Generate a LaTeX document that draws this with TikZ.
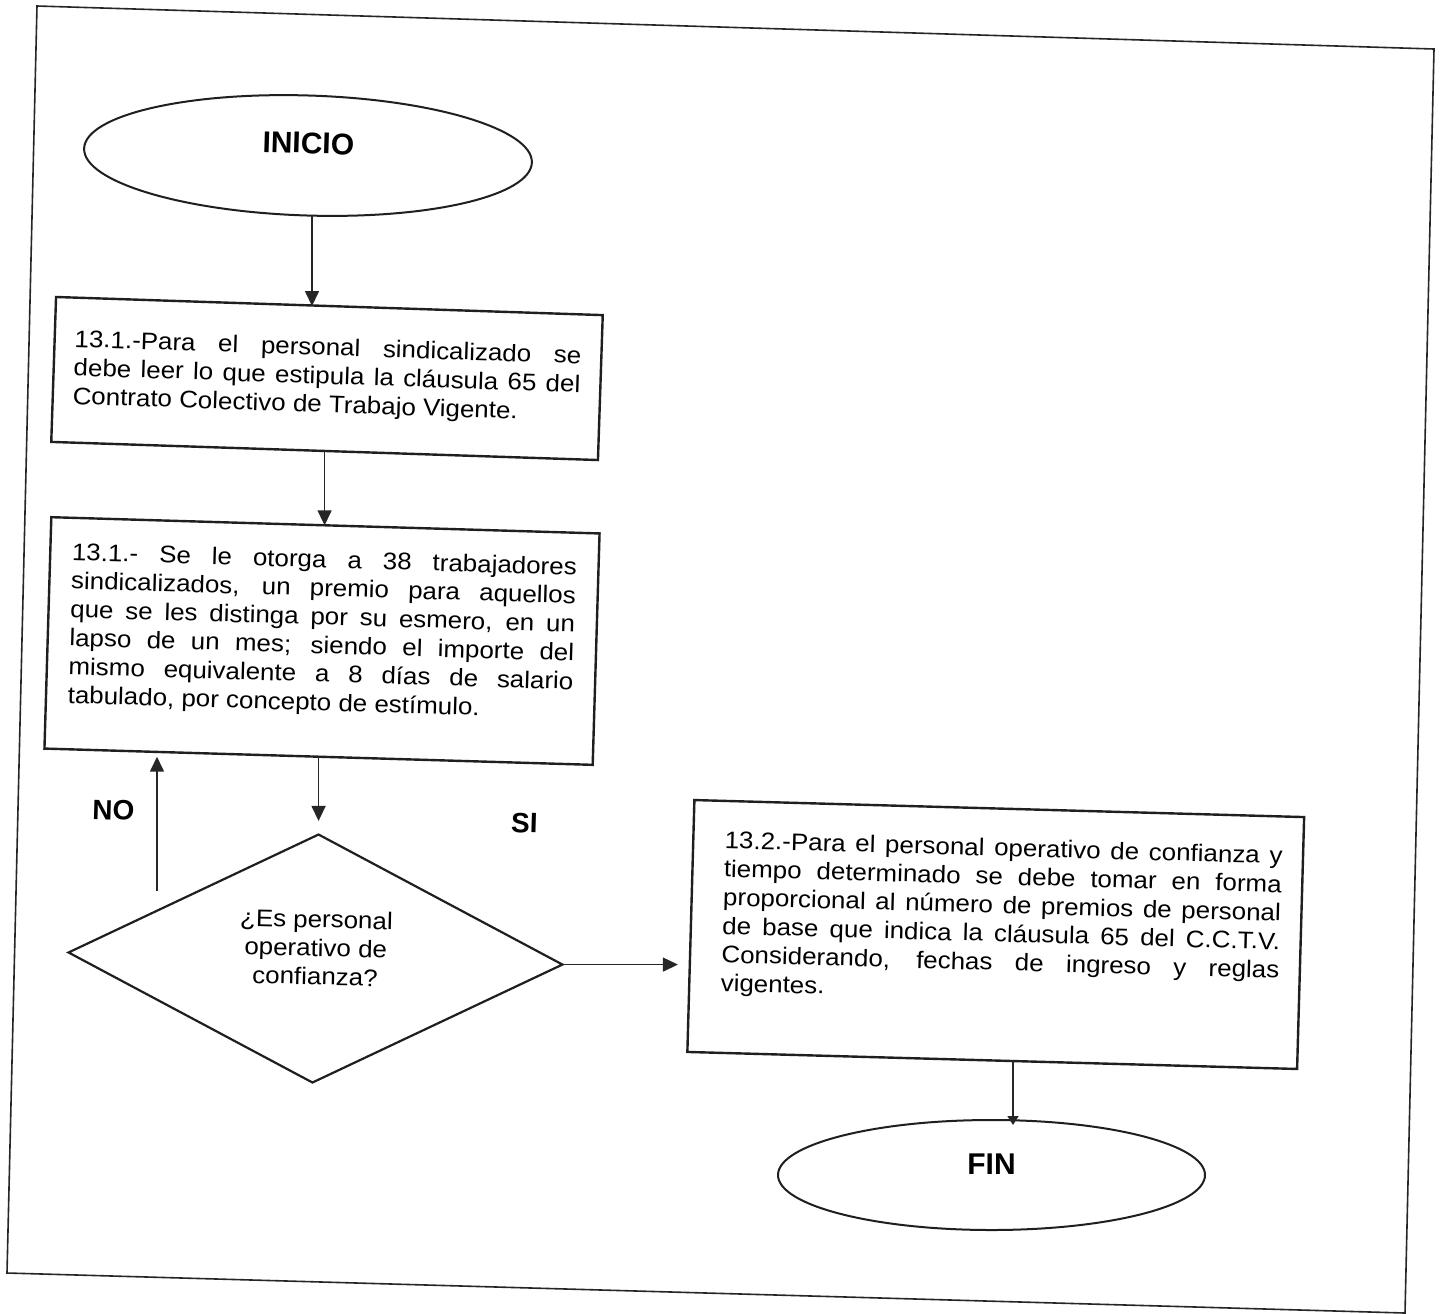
\documentclass[tikz,border=0pt]{standalone}
\usepackage{fontspec}
\setmainfont{Liberation Sans}
\newfontfamily\bodyfam[FakeStretch=1.08]{Liberation Sans}
\usetikzlibrary{shapes.geometric,arrows.meta,calc}

% type sizes
\newcommand\fcbody{\bodyfam\fontsize{12pt}{14.3pt}\selectfont}
\newcommand\fcterm{\fontsize{15pt}{18pt}\selectfont\bfseries}
\newcommand\fclabel{\fontsize{14pt}{17pt}\selectfont\bfseries}

% top-aligned text block: height, width, top gap, lines
\newcommand\boxtext[4]{\parbox[c][#1][t]{#2}{\vspace*{#3}#4}}
% one fully justified line
\newcommand\jline[1]{\makebox[\linewidth][s]{#1}\par}

\tikzset{
  procbox/.style={draw=black!88, line width=1.2pt, inner sep=0pt, outer sep=0pt, font=\fcbody},
  terminal/.style={ellipse, draw=black!88, line width=1pt, inner sep=0pt, font=\fcterm},
  decision/.style={diamond, aspect=2, draw=black!88, line width=1.1pt, inner sep=0pt, font=\fcbody},
  flow/.style={draw=black!85, line width=0.75pt, -{Triangle[length=7.5pt,width=7pt]}},
  flowsmall/.style={draw=black!85, line width=0.75pt, -{Triangle[length=4.5pt,width=5.5pt]}},
  lbl/.style={font=\fclabel, inner sep=0pt},
  frameline/.style={draw=black!85, line width=0.8pt},
}

\begin{document}
\begin{tikzpicture}[x=0.5pt, y=-0.5pt]
  \fill[white] (0,0) rectangle (1440,1313);
  \useasboundingbox (0,0) rectangle (1440,1313);

  % page frame
  \draw[frameline] (37,6) -- (1434,49) -- (1405,1313) -- (7,1273) -- cycle;

  % start
  \node[terminal, rotate=-1.8, minimum width=224pt, minimum height=60pt, text depth=12.5pt]
    (ini) at (308,155.5) {INICIO};

  % step 13.1 (reading)
  \node[procbox, rotate=-1.9, minimum width=273.5pt, minimum height=72.5pt]
    (b1) at (327,378.5)
    {\boxtext{72.5pt}{253.5pt}{16pt}{%
      \jline{13.1.-Para el personal sindicalizado se}%
      \jline{debe leer lo que estipula la cláusula 65 del}%
      Contrato Colectivo de Trabajo Vigente.}};

  % step 13.1 (award)
  \node[procbox, rotate=-1.7, minimum width=274.25pt, minimum height=115.75pt]
    (b2) at (322,641)
    {\boxtext{115.75pt}{252.5pt}{12.5pt}{%
      \jline{13.1.- Se le otorga a 38 trabajadores}%
      \jline{sindicalizados, un premio para aquellos}%
      \jline{que se les distinga por su esmero, en un}%
      \jline{lapso de un mes; siendo el importe del}%
      \jline{mismo equivalente a 8 días de salario}%
      tabulado, por concepto de estímulo.}};

  % decision
  \node[decision, rotate=-1.4, minimum width=247.5pt, minimum height=124.5pt]
    (dia) at (315.5,958.5)
    {\raisebox{4pt}[\height][\depth]{\begin{tabular}{@{}c@{}}¿Es personal\\operativo de\\confianza?\end{tabular}}};

  % step 13.2
  \node[procbox, rotate=-1.6, minimum width=305pt, minimum height=126pt]
    (b3) at (995.75,934.5)
    {\hspace*{5.5pt}\boxtext{126pt}{279pt}{15pt}{%
      \jline{13.2.-Para el personal operativo de confianza y}%
      \jline{tiempo determinado se debe tomar en forma}%
      \jline{proporcional al número de premios de personal}%
      \jline{de base que indica la cláusula 65 del C.C.T.V.}%
      \jline{Considerando, fechas de ingreso y reglas}%
      vigentes.}};

  % end
  \node[terminal, minimum width=213.5pt, minimum height=55pt, text depth=11pt]
    (fin) at (991.5,1175) {FIN};

  % branch labels
  \node[lbl, rotate=-1.7] (no) at (113.5,810) {NO};
  \node[lbl, rotate=-1.7] (si) at (524.5,823) {SI};

  % connectors
  \coordinate (ax) at (312,0);
  \coordinate (fx) at (1013,0);
  \coordinate (nofoot) at (157,891);

  \draw[flow] (ini.south -| ax) -- (b1.north -| ax);
  \draw[flow] (b1.south) -- (b1.south |- b2.north);
  \draw[flow, shorten >=6pt] (b2.south) -- (b2.south |- dia.north);
  \draw[flow] (nofoot) -- (nofoot |- b2.south);
  \draw[flow, shorten >=6.5pt] (dia.east) -- (dia.east -| b3.west);
  \draw[flowsmall, shorten >=-3pt] (b3.south -| fx) -- (fin.north -| fx);
\end{tikzpicture}
\end{document}
